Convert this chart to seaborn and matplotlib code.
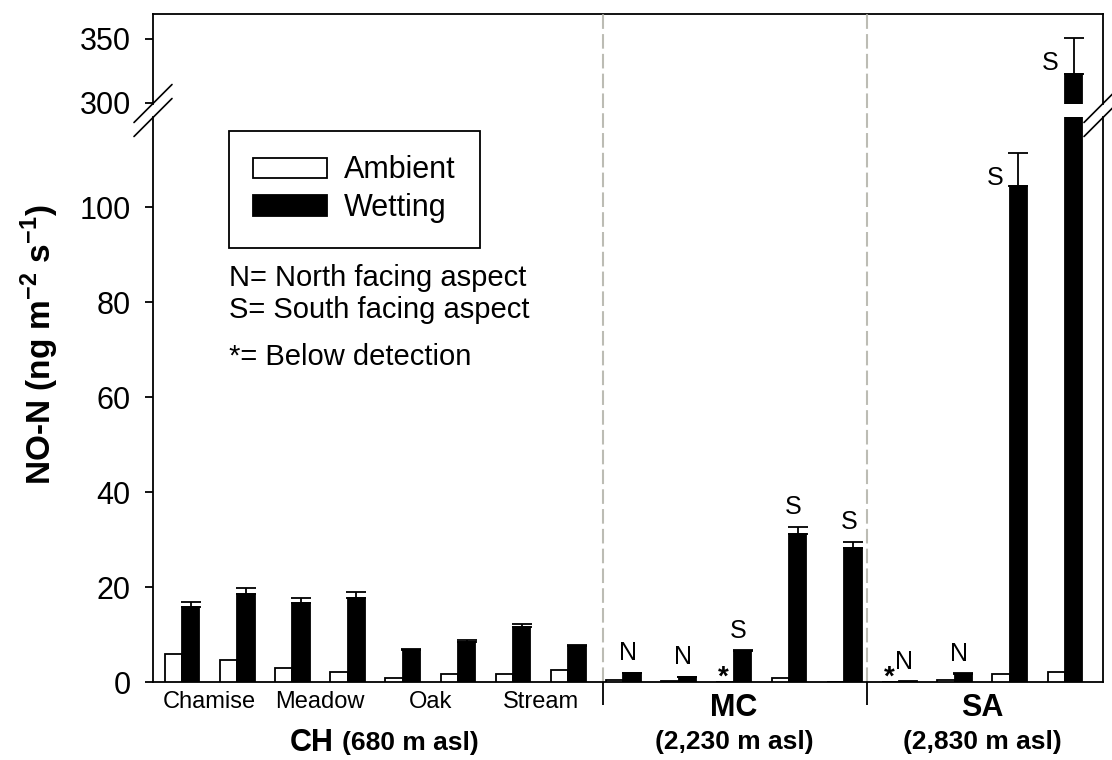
import numpy as np
import pandas as pd
import seaborn as sns
import matplotlib.pyplot as plt
from matplotlib.patches import Patch
from matplotlib.lines import Line2D

# NO-N flux per plot pair (ng m-2 s-1)
sites = ['Chamise', 'Meadow', 'Oak', 'Stream']
groups = ['CH', 'MC', 'SA']
altitudes = ['(680 m asl)', '(2,230 m asl)', '(2,830 m asl)']
pairs_per_group = [8, 5, 4]
ambient = [5.8, 4.6, 2.9, 2.1, 0.9, 1.75, 1.75, 2.6,
           0.35, 0.3, 0.0, 0.85, 0.1,
           0.0, 0.35, 1.6, 2.05]
wetting = [15.8, 18.5, 16.7, 17.7, 6.7, 8.4, 11.6, 7.6,
           1.9, 1.05, 6.6, 31.2, 28.3,
           0.2, 1.7, 104.4, 322.6]
wetting_err = [1.0, 1.2, 1.0, 1.2, 0.15, 0.4, 0.7, 0.15,
               0.1, 0.1, 0.1, 1.5, 1.2,
               0.0, 0.2, 7.1, 28.2]
aspect = [''] * 8 + ['N', 'N', 'S', 'S', 'S', 'N', 'N', 'S', 'S']
below_detection = [False] * 10 + [True] + [False] * 2 + [True] + [False] * 3

n = len(ambient)
df = pd.DataFrame({'pair': list(range(n)) * 2,
                   'treatment': ['Ambient'] * n + ['Wetting'] * n,
                   'flux': ambient + wetting})

sns.set_style('ticks')
plt.rcParams['font.family'] = ['Liberation Sans', 'DejaVu Sans']
plt.rcParams['text.color'] = 'black'
plt.rcParams['axes.labelcolor'] = 'black'
plt.rcParams['xtick.color'] = 'black'
plt.rcParams['ytick.color'] = 'black'
plt.rcParams['mathtext.fontset'] = 'custom'
plt.rcParams['mathtext.rm'] = 'Liberation Sans'
plt.rcParams['mathtext.bf'] = 'Liberation Sans:bold'

W, H = 1112, 760
fig = plt.figure(figsize=(W / 100, H / 100), dpi=100)


def box(l, t, r, b):
    return [l / W, 1 - b / H, (r - l) / W, (b - t) / H]


ax_top = fig.add_axes(box(153, 14, 1103, 104))
ax_low = fig.add_axes(box(153, 117, 1103, 682))

palette = {'Ambient': 'white', 'Wetting': 'black'}
half = 0.315 / 2
err = np.array(wetting_err)
has_err = err > 0
xw = np.arange(n) + half

for ax in (ax_top, ax_low):
    sns.barplot(data=df, x='pair', y='flux', hue='treatment',
                hue_order=['Ambient', 'Wetting'], palette=palette,
                width=0.63, edgecolor='black', linewidth=1.3,
                errorbar=None, legend=False, ax=ax, zorder=3)
    ax.errorbar(xw[has_err], np.array(wetting)[has_err],
                yerr=[np.zeros(has_err.sum()), err[has_err]],
                fmt='none', ecolor='black', elinewidth=1.3,
                capsize=7, capthick=1.3, zorder=4)
    ax.set_xlim(-0.525, 16.69)
    ax.set_xlabel('')
    ax.set_ylabel('')
    ax.patch.set_alpha(0)
    for s in ax.spines.values():
        s.set_linewidth(1.3)
        s.set_color('black')
    ax.tick_params(axis='y', direction='out', length=6, width=1.3,
                   labelsize=22, pad=10, colors='black')

# upper segment of the broken axis
ax_top.set_ylim(299.2, 369.5)
ax_top.set_yticks([300, 350])
ax_top.spines['bottom'].set_visible(False)
ax_top.set_xticks([])

# lower segment
ax_low.set_ylim(0, 119)
ax_low.set_yticks([0, 20, 40, 60, 80, 100])
ax_low.spines['top'].set_visible(False)
seps = [7.63, 12.41]
ax_low.set_xticks(seps)
ax_low.set_xticklabels(['', ''])
ax_low.tick_params(axis='x', direction='out', length=16.5, width=1.3)

ext = (682 - 14) / (682 - 117)
for xs in seps:
    ax_low.axvline(xs, ymin=0, ymax=ext, color='#bcbcb4', lw=1.5,
                   ls=(0, (7, 2.5)), clip_on=False, zorder=1)

# break marks
for xc in (153, 1103):
    for yc in (103.5, 117.5):
        fig.add_artist(Line2D([(xc - 19) / W, (xc + 19) / W],
                              [1 - (yc + 19) / H, 1 - (yc - 19) / H],
                              color='black', lw=1.2))

# aspect letters and below-detection stars
for i in range(n):
    top = wetting[i] + wetting_err[i]
    ax = ax_top if top > 119 else ax_low
    if aspect[i]:
        if wetting_err[i] > 5:
            off = (-17, -18)
        else:
            off = (-3, 14)
        ax.annotate(aspect[i], xy=(i + half, top), xytext=off,
                    textcoords='offset points', ha='center', va='center',
                    fontsize=18)
    if below_detection[i]:
        ax_low.annotate('*', xy=(i - half, 0), xytext=(-1, -2),
                        textcoords='offset points', ha='center',
                        va='baseline', fontsize=20, fontweight='bold')

# site labels under CH
for k, site in enumerate(sites):
    ax_low.annotate(site, xy=(2 * k + 0.5, 0), xycoords=('data', 'axes fraction'),
                    xytext=(0, -14.5), textcoords='offset points',
                    ha='center', va='center', fontsize=17)

# group labels
starts = np.cumsum([0] + pairs_per_group[:-1])
for g, alt, s0, cnt in zip(groups, altitudes, starts, pairs_per_group):
    xc = s0 + (cnt - 1) / 2
    if g == 'CH':
        ax_low.annotate(g, xy=(xc, 0), xycoords=('data', 'axes fraction'),
                        xytext=(-30, -44), textcoords='offset points',
                        ha='right', va='center', fontsize=22, fontweight='bold')
        ax_low.annotate(alt, xy=(xc, 0), xycoords=('data', 'axes fraction'),
                        xytext=(-24, -44), textcoords='offset points',
                        ha='left', va='center', fontsize=19, fontweight='bold')
    else:
        ax_low.annotate(g, xy=(xc, 0), xycoords=('data', 'axes fraction'),
                        xytext=(0, -19), textcoords='offset points',
                        ha='center', va='center', fontsize=22, fontweight='bold')
        ax_low.annotate(alt, xy=(xc, 0), xycoords=('data', 'axes fraction'),
                        xytext=(0, -43), textcoords='offset points',
                        ha='center', va='center', fontsize=19, fontweight='bold')

# legend and notes
handles = [Patch(facecolor='white', edgecolor='black', lw=1.3, label='Ambient'),
           Patch(facecolor='black', edgecolor='black', lw=1.3, label='Wetting')]
leg = ax_low.legend(handles=handles, loc='upper left',
                    bbox_to_anchor=(229 / W, 1 - 131 / H),
                    bbox_transform=fig.transFigure, borderaxespad=0,
                    frameon=True, fancybox=False, edgecolor='black',
                    framealpha=1, fontsize=22, handlelength=2.4,
                    handleheight=0.65, handletextpad=0.55,
                    labelspacing=0.25, borderpad=0.8)
leg.get_frame().set_linewidth(1.3)

fig.text(229 / W, 1 - 278 / H, 'N= North facing aspect', fontsize=21, va='center')
fig.text(229 / W, 1 - 310 / H, 'S= South facing aspect', fontsize=21, va='center')
fig.text(229 / W, 1 - 357 / H, '*= Below detection', fontsize=21, va='center')

fig.text(40 / W, 1 - 345 / H, r'NO-N (ng m$^{\mathbf{-2}}$ s$^{\mathbf{-1}}$)',
         rotation=90, fontsize=24, fontweight='bold', ha='center', va='center')

fig.savefig('out.png', dpi=100)
